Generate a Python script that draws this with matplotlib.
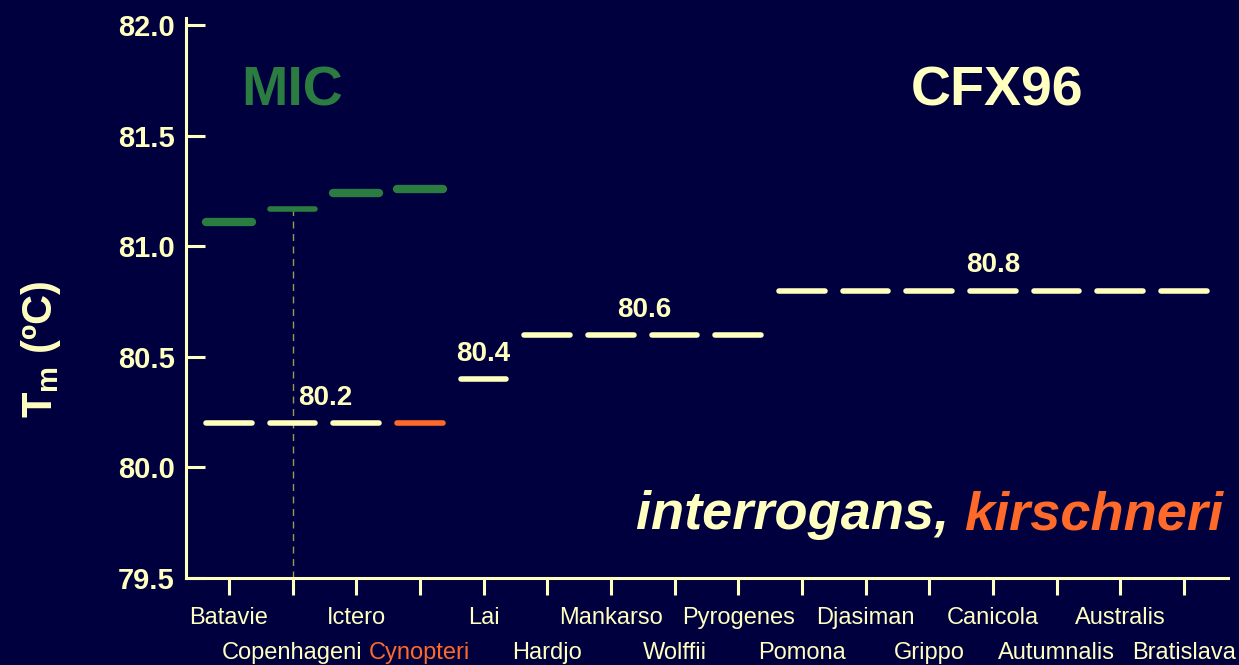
import matplotlib
matplotlib.use('Agg')
import matplotlib.pyplot as plt

serovars = ['Batavie', 'Copenhageni', 'Ictero', 'Cynopteri', 'Lai', 'Hardjo', 'Mankarso',
            'Wolffii', 'Pyrogenes', 'Pomona', 'Djasiman', 'Grippo', 'Canicola',
            'Autumnalis', 'Australis', 'Bratislava']
cfx_tm = [80.2, 80.2, 80.2, 80.2, 80.4, 80.6, 80.6, 80.6, 80.6,
          80.8, 80.8, 80.8, 80.8, 80.8, 80.8, 80.8]
kirschneri = ['Cynopteri']
mic_tm = [81.11, 81.17, 81.24, 81.26]
mic_lw = [6, 4, 6, 6]
group_labels = [(80.2, 1.52, '80.2'), (80.4, 4, '80.4'), (80.6, 6.52, '80.6'), (80.8, 12, '80.8')]

bg = '#00003f'
cream = '#ffffc0'
green = '#2a7c40'
orange = '#ff6a2a'
plt.rcParams['font.family'] = ['Liberation Sans', 'DejaVu Sans']
plt.rcParams['mathtext.fontset'] = 'custom'
plt.rcParams['mathtext.bf'] = 'Liberation Sans:bold'
plt.rcParams['mathtext.rm'] = 'Liberation Sans'

fig = plt.figure(figsize=(12.39, 6.65), dpi=100, facecolor=bg)
ax = fig.add_axes([0.150, 0.131, 0.841, 0.842], facecolor=bg)

hw = 0.36
for i, (s, v) in enumerate(zip(serovars, cfx_tm)):
    c = orange if s in kirschneri else cream
    ax.plot([i - hw, i + hw], [v, v], color=c, lw=4, solid_capstyle='round', zorder=3)
for i, (v, lw) in enumerate(zip(mic_tm, mic_lw)):
    ax.plot([i - hw, i + hw], [v, v], color=green, lw=lw, solid_capstyle='round', zorder=3)

# dashed drop line at Copenhageni
ax.plot([1, 1], [79.5, mic_tm[1]], color='#9a9a50', lw=1, ls=(0, (5, 4)), zorder=2)

for v, x, t in group_labels:
    ax.text(x, v + 0.055, t, color=cream, fontsize=20, fontweight='bold', ha='center', va='bottom')

ax.text(1, 81.70, 'MIC', color=green, fontsize=40, fontweight='bold', ha='center', va='center')
ax.text(12.06, 81.70, 'CFX96', color=cream, fontsize=40, fontweight='bold', ha='center', va='center')
k = ax.text(15.62, 79.72, 'kirschneri', color=orange, fontsize=39, fontweight='bold', style='italic',
            ha='right', va='baseline')

ax.set_xlim(-0.675, 15.69)
ax.set_ylim(79.5, 82.034)
ax.set_yticks([79.5, 80.0, 80.5, 81.0, 81.5, 82.0])
ax.set_yticklabels(['79.5', '80.0', '80.5', '81.0', '81.5', '82.0'])
ax.set_xticks(range(len(serovars)))
ax.set_xticklabels(serovars)
for lab, s in zip(ax.get_xticklabels(), serovars):
    lab.set_color(orange if s in kirschneri else cream)
for lab in ax.get_yticklabels():
    lab.set_fontweight('bold')

ax.tick_params(axis='y', direction='in', length=14, width=2.2, colors=cream, labelsize=21, pad=8)
ax.tick_params(axis='x', direction='out', length=12, width=2.2, color=cream, labelsize=17, pad=9)
for i, t in enumerate(ax.xaxis.get_major_ticks()):
    if i % 2:
        t.set_pad(34)
for sp in ['top', 'right']:
    ax.spines[sp].set_visible(False)
for sp in ['left', 'bottom']:
    ax.spines[sp].set_color(cream)
    ax.spines[sp].set_linewidth(2.2)

fig.text(0.033, 0.475, r'$\mathbf{T_m}$ (ºC)', color=cream, fontsize=30, fontweight='bold',
         rotation=90, ha='center', va='center')

# put "interrogans, " right before "kirschneri"
fig.canvas.draw()
bb = k.get_window_extent(fig.canvas.get_renderer())
x0 = ax.transData.inverted().transform((bb.x0, bb.y0))[0]
ax.text(x0, 79.72, 'interrogans, ', color=cream, fontsize=39, fontweight='bold', style='italic',
        ha='right', va='baseline')

fig.savefig('out.png', dpi=100, facecolor=bg)
